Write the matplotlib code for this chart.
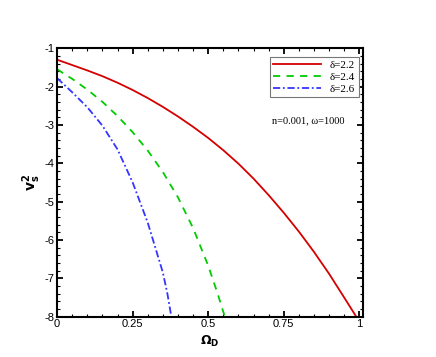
import numpy as np
import matplotlib
matplotlib.use("Agg")
import matplotlib.pyplot as plt
from matplotlib.ticker import MultipleLocator, FixedLocator

# values
x_red = [0, 0.05, 0.1, 0.15, 0.2, 0.25, 0.3, 0.35, 0.4, 0.45, 0.5,
         0.55, 0.6, 0.65, 0.7, 0.75, 0.8, 0.85, 0.9, 0.95, 0.99]
v_red = [-1.30, -1.44, -1.58, -1.73, -1.90, -2.09, -2.30, -2.53, -2.78, -3.05, -3.34,
         -3.66, -4.01, -4.40, -4.83, -5.29, -5.78, -6.31, -6.88, -7.50, -8.0]

x_green = [0, 0.05, 0.1, 0.15, 0.2, 0.25, 0.3, 0.35, 0.4, 0.45, 0.5, 0.53, 0.555]
v_green = [-1.55, -1.80, -2.08, -2.40, -2.77, -3.19, -3.67, -4.23, -4.89, -5.69, -6.67, -7.37, -8.0]

x_blue = [0, 0.05, 0.1, 0.15, 0.2, 0.25, 0.3, 0.35, 0.365, 0.378]
v_blue = [-1.78, -2.15, -2.54, -3.02, -3.64, -4.50, -5.55, -6.85, -7.40, -8.0]

labels = ["\u03b4=2.2", "\u03b4=2.4", "\u03b4=2.6"]
x_ticks = [0, 0.25, 0.5, 0.75, 1]
x_tick_labels = ["0", "0.25", "0.5", "0.75", "1"]
y_ticks = [-8, -7, -6, -5, -4, -3, -2, -1]

plt.rcParams['font.family'] = ['Liberation Sans', 'DejaVu Sans']

fig = plt.figure(figsize=(4.36, 3.57), dpi=100)
ax = fig.add_axes([0.131, 0.113, 0.702, 0.752])

ax.plot(x_red, v_red, color='#d40000', lw=1.3, label=labels[0])
ax.plot(x_green, v_green, color='#00cc00', lw=1.3, dashes=(4, 3.5), label=labels[1])
ax.plot(x_blue, v_blue, color='#3535ff', lw=1.3, dashes=(4, 1.5, 1, 1.5), label=labels[2])

ax.set_xlim(0, 1.013)
ax.set_ylim(-8, -1)
ax.xaxis.set_major_locator(FixedLocator(x_ticks))
ax.set_xticklabels(x_tick_labels)
ax.xaxis.set_minor_locator(MultipleLocator(0.05))
ax.yaxis.set_major_locator(FixedLocator(y_ticks))
ax.set_yticklabels([str(t) for t in y_ticks])
ax.yaxis.set_minor_locator(MultipleLocator(0.2))

ax.tick_params(which='both', direction='in', top=True, right=True, labelsize=8, pad=2)
ax.tick_params(which='major', length=4.5, width=1.3)
ax.tick_params(which='minor', length=2.5, width=0.8)
for s in ax.spines.values():
    s.set_linewidth(1.5)

ax.set_xlabel(r"$\mathbf{\Omega_D}$", fontsize=9, labelpad=3)
ax.set_ylabel(r"$\mathbf{v_s^2}$", fontsize=10, labelpad=1)

leg = ax.legend(loc='upper right', bbox_to_anchor=(0.985, 0.967), fancybox=False,
                edgecolor='#777777', framealpha=1, handlelength=4.3,
                borderpad=0.3, labelspacing=0.2, handletextpad=0.8, borderaxespad=0,
                prop={'family': 'Liberation Serif', 'size': 8})
leg.get_frame().set_linewidth(0.8)

ax.text(0.82, 0.728, "n=0.001, \u03c9=1000", transform=ax.transAxes,
        ha='center', va='center', fontsize=7.5, family='Liberation Serif')

fig.savefig("out.png", dpi=100)
